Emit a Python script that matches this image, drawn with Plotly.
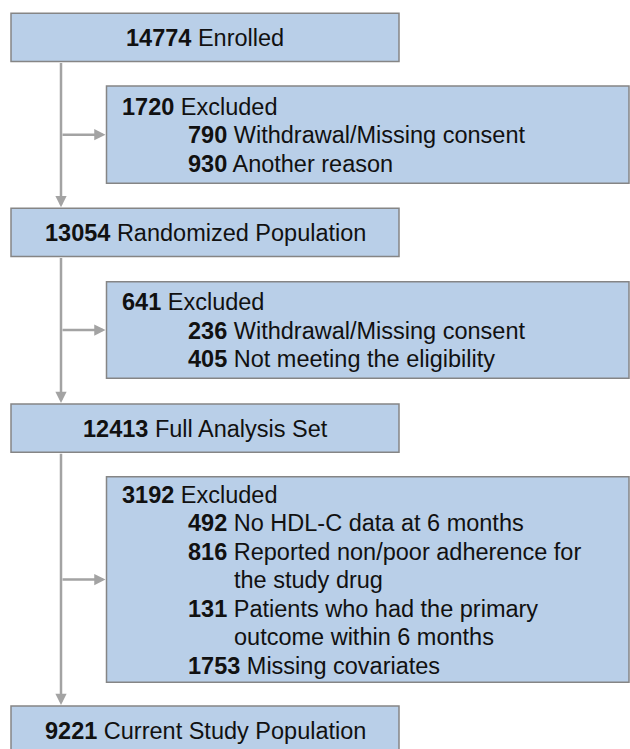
import plotly.graph_objects as go

# Flow chart data
main_counts = [14774, 13054, 12413, 9221]
main_labels = ["Enrolled", "Randomized Population", "Full Analysis Set", "Current Study Population"]

excl_counts = [1720, 641, 3192]
excl_sub_counts = [
    [790, 930],
    [236, 405],
    [492, 816, 131, 1753],
]
excl_sub_reasons = [
    ["Withdrawal/Missing consent", "Another reason"],
    ["Withdrawal/Missing consent", "Not meeting the eligibility"],
    ["No HDL-C data at 6 months",
     "Reported non/poor adherence for<br>the study drug",
     "Patients who had the primary<br>outcome within 6 months",
     "Missing covariates"],
]

# layout geometry (pixels, y downwards)
W, H = 630, 749
main_x0, main_x1 = 11, 399
main_top = [13.3, 208.3, 404, 706]
main_h = 48.3
excl_x0, excl_x1 = 106.5, 629
excl_top = [86, 281.7, 476.7]
excl_bot = [183.3, 378.3, 682.3]
trunk_x = 61
line_gap = 28.5

FILL = "#B9CFE8"
EDGE = "#858585"
ARROW = "#A3A3A3"
FONT = "Liberation Sans, Arial, sans-serif"
FS = 23.5

fig = go.Figure()
shapes = []
annotations = []

def box(x0, y0, x1, y1):
    shapes.append(dict(type="rect", xref="x", yref="y", x0=x0, y0=y0, x1=x1, y1=y1,
                       fillcolor=FILL, line=dict(color=EDGE, width=1.5), layer="above"))

def text(x, y, s, anchor="left"):
    annotations.append(dict(x=x, y=y, xref="x", yref="y", text=s, showarrow=False,
                            xanchor=anchor, yanchor="middle",
                            font=dict(family=FONT, size=FS, color="#111111")))

def arrow(x0, y0, x1, y1):
    annotations.append(dict(x=x1, y=y1, ax=x0, ay=y0, xref="x", yref="y",
                            axref="x", ayref="y", text="", showarrow=True,
                            arrowhead=2, arrowsize=0.9, arrowwidth=2.5,
                            arrowcolor=ARROW, standoff=0))

# main boxes
for i, (n, lab) in enumerate(zip(main_counts, main_labels)):
    t = main_top[i]
    box(main_x0, t, main_x1, t + main_h)
    text((main_x0 + main_x1) / 2, t + main_h / 2 + 0.5, f"<b>{n}</b> {lab}", anchor="center")

# arrows between main boxes and side branches
for i in range(len(excl_counts)):
    arrow(trunk_x, main_top[i] + main_h, trunk_x, main_top[i + 1] - 1)
    mid = (excl_top[i] + excl_bot[i]) / 2
    arrow(trunk_x, mid, excl_x0 - 1, mid)

# exclusion boxes
for i, n in enumerate(excl_counts):
    box(excl_x0, excl_top[i], excl_x1, excl_bot[i])
    lines = [("head", f"<b>{n}</b> Excluded")]
    for c, r in zip(excl_sub_counts[i], excl_sub_reasons[i]):
        parts = r.split("<br>")
        lines.append(("sub", f"<b>{c}</b> {parts[0]}"))
        for p in parts[1:]:
            lines.append(("cont", p))
    mid = (excl_top[i] + excl_bot[i]) / 2
    y = mid - line_gap * (len(lines) - 1) / 2
    for kind, s in lines:
        xpos = {"head": 120, "sub": 186, "cont": 232}[kind]
        text(xpos, y + 0.5, s)
        y += line_gap

fig.update_layout(
    width=W, height=H,
    margin=dict(l=0, r=0, t=0, b=0),
    paper_bgcolor="white", plot_bgcolor="white",
    xaxis=dict(range=[0, W], visible=False, fixedrange=True),
    yaxis=dict(range=[H, 0], visible=False, fixedrange=True),
    shapes=shapes, annotations=annotations,
    showlegend=False,
)

# drop the page's default body margin so the figure sits at the window corner
fig.write_html("out.html", config={"displayModeBar": False},
               post_script="document.body.style.margin='0';")
